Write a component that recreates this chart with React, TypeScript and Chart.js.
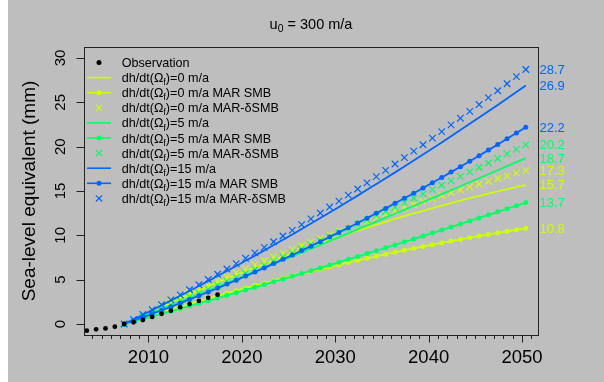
import React, { useEffect, useRef } from "react";
import { Chart, registerables } from "chart.js";
Chart.register(...registerables);

const obsYears = [2003.4, 2004.4, 2005.4, 2006.4, 2007.4, 2008.4, 2009.4, 2010.4, 2011.4, 2012.4, 2013.4, 2014.4, 2015.4, 2016.4, 2017.4];
const obsSLE = [-0.75, -0.6, -0.5, -0.3, 0.0, 0.2, 0.45, 0.8, 1.15, 1.5, 1.9, 2.25, 2.6, 2.95, 3.3];

const modelYears = [2007.4, 2008.4, 2009.4, 2010.4, 2011.4, 2012.4, 2013.4, 2014.4, 2015.4, 2016.4, 2017.4, 2018.4, 2019.4, 2020.4, 2021.4, 2022.4, 2023.4, 2024.4, 2025.4, 2026.4, 2027.4, 2028.4, 2029.4, 2030.4, 2031.4, 2032.4, 2033.4, 2034.4, 2035.4, 2036.4, 2037.4, 2038.4, 2039.4, 2040.4, 2041.4, 2042.4, 2043.4, 2044.4, 2045.4, 2046.4, 2047.4, 2048.4, 2049.4, 2050.4];

const dh0 = [0, 0.50, 0.99, 1.47, 1.95, 2.42, 2.89, 3.35, 3.80, 4.25, 4.69, 5.12, 5.55, 5.97, 6.38, 6.79, 7.19, 7.59, 7.98, 8.36, 8.74, 9.11, 9.48, 9.83, 10.19, 10.53, 10.87, 11.20, 11.53, 11.85, 12.17, 12.47, 12.77, 13.07, 13.36, 13.64, 13.92, 14.19, 14.45, 14.71, 14.96, 15.21, 15.44, 15.7];
const dh0MarSmb = [0, 0.34, 0.67, 0.99, 1.32, 1.64, 1.95, 2.26, 2.57, 2.87, 3.17, 3.47, 3.76, 4.04, 4.33, 4.61, 4.88, 5.15, 5.42, 5.68, 5.94, 6.20, 6.45, 6.69, 6.94, 7.18, 7.41, 7.64, 7.87, 8.09, 8.31, 8.53, 8.74, 8.94, 9.15, 9.35, 9.54, 9.73, 9.92, 10.10, 10.28, 10.46, 10.63, 10.8];
const dh0MarDelta = [0, 0.51, 1.02, 1.52, 2.02, 2.51, 2.99, 3.48, 3.95, 4.42, 4.89, 5.35, 5.80, 6.25, 6.69, 7.13, 7.57, 8.00, 8.42, 8.84, 9.25, 9.66, 10.06, 10.46, 10.85, 11.24, 11.62, 11.99, 12.36, 12.73, 13.09, 13.45, 13.80, 14.14, 14.48, 14.81, 15.14, 15.47, 15.79, 16.10, 16.41, 16.71, 17.01, 17.3];
const dh5 = [0, 0.42, 0.83, 1.25, 1.67, 2.09, 2.51, 2.93, 3.35, 3.77, 4.20, 4.62, 5.05, 5.48, 5.90, 6.33, 6.76, 7.19, 7.62, 8.05, 8.49, 8.92, 9.36, 9.79, 10.23, 10.67, 11.11, 11.55, 11.99, 12.43, 12.87, 13.31, 13.76, 14.20, 14.65, 15.09, 15.54, 15.99, 16.44, 16.89, 17.34, 17.80, 18.25, 18.7];
const dh5MarSmb = [0, 0.29, 0.57, 0.86, 1.15, 1.44, 1.74, 2.03, 2.33, 2.63, 2.93, 3.23, 3.53, 3.84, 4.14, 4.45, 4.76, 5.07, 5.38, 5.69, 6.01, 6.33, 6.65, 6.97, 7.29, 7.61, 7.94, 8.26, 8.59, 8.92, 9.25, 9.58, 9.92, 10.26, 10.59, 10.93, 11.27, 11.62, 11.96, 12.31, 12.65, 13.00, 13.35, 13.7];
const dh5MarDelta = [0, 0.43, 0.85, 1.28, 1.72, 2.15, 2.59, 3.03, 3.47, 3.91, 4.35, 4.80, 5.25, 5.70, 6.15, 6.61, 7.07, 7.53, 7.99, 8.45, 8.92, 9.38, 9.85, 10.33, 10.80, 11.28, 11.75, 12.23, 12.72, 13.20, 13.69, 14.18, 14.67, 15.16, 15.65, 16.15, 16.65, 17.15, 17.65, 18.16, 18.67, 19.18, 19.69, 20.2];
const dh15 = [0, 0.52, 1.04, 1.57, 2.10, 2.64, 3.18, 3.73, 4.28, 4.84, 5.41, 5.98, 6.55, 7.13, 7.71, 8.30, 8.90, 9.50, 10.10, 10.71, 11.33, 11.95, 12.57, 13.20, 13.84, 14.48, 15.13, 15.78, 16.44, 17.10, 17.76, 18.44, 19.11, 19.80, 20.48, 21.18, 21.87, 22.58, 23.28, 24.00, 24.71, 25.44, 26.17, 26.9];
const dh15MarSmb = [0, 0.38, 0.76, 1.15, 1.54, 1.94, 2.35, 2.77, 3.19, 3.62, 4.05, 4.50, 4.94, 5.40, 5.86, 6.33, 6.81, 7.29, 7.78, 8.28, 8.78, 9.29, 9.81, 10.33, 10.86, 11.39, 11.94, 12.49, 13.04, 13.61, 14.18, 14.75, 15.34, 15.93, 16.53, 17.13, 17.74, 18.36, 18.98, 19.61, 20.25, 20.89, 21.54, 22.2];
const dh15MarDelta = [0, 0.53, 1.07, 1.61, 2.17, 2.72, 3.29, 3.86, 4.43, 5.02, 5.61, 6.20, 6.81, 7.41, 8.03, 8.65, 9.28, 9.92, 10.56, 11.21, 11.86, 12.52, 13.19, 13.86, 14.54, 15.23, 15.92, 16.62, 17.33, 18.04, 18.76, 19.49, 20.22, 20.96, 21.70, 22.45, 23.21, 23.98, 24.75, 25.53, 26.31, 27.10, 27.90, 28.7];

const xTicks = [2010, 2020, 2030, 2040, 2050];
const xMinorTicks = [2004, 2005, 2006, 2007, 2008, 2009, 2011, 2012, 2013, 2014, 2015, 2016, 2017, 2018, 2019, 2021, 2022, 2023, 2024, 2025, 2026, 2027, 2028, 2029, 2031, 2032, 2033, 2034, 2035, 2036, 2037, 2038, 2039, 2041, 2042, 2043, 2044, 2045, 2046, 2047, 2048, 2049, 2051];
const yTicks = [0, 5, 10, 15, 20, 25, 30];

const YELLOW = "#CCFF00";
const GREEN = "#00FF66";
const BLUE = "#0066FF";
const FONT = '"Liberation Sans", Arial, Helvetica, sans-serif';

const titleMain = "u";
const titleSub = "0";
const titleRest = " = 300 m/a";
const yTitle = "Sea-level equivalent (mm)";
const obsLabel = "Observation";
const rates = ["0", "5", "15"];
const suffixes = ["", " MAR SMB", " MAR-\u03B4SMB"];

type Kind = "dot" | "line" | "linedot" | "cross";

const groups = [
  { rate: rates[0], color: YELLOW, line: dh0, dots: dh0MarSmb, cross: dh0MarDelta },
  { rate: rates[1], color: GREEN, line: dh5, dots: dh5MarSmb, cross: dh5MarDelta },
  { rate: rates[2], color: BLUE, line: dh15, dots: dh15MarSmb, cross: dh15MarDelta },
];

function pts(xs: number[], ys: number[]) {
  return xs.map((x, i) => ({ x, y: ys[i] }));
}

function drawRich(ctx: CanvasRenderingContext2D, parts: { t: string; sub?: boolean }[], x: number, y: number, size: number, align: "left" | "center") {
  const widths = parts.map((p) => {
    ctx.font = `${p.sub ? size * 0.72 : size}px ${FONT}`;
    return ctx.measureText(p.t).width;
  });
  const total = widths.reduce((a, b) => a + b, 0);
  let cx = align === "center" ? x - total / 2 : x;
  ctx.textAlign = "left";
  ctx.textBaseline = "alphabetic";
  parts.forEach((p, i) => {
    ctx.font = `${p.sub ? size * 0.72 : size}px ${FONT}`;
    ctx.fillText(p.t, cx, p.sub ? y + size * 0.25 : y);
    cx += widths[i];
  });
}

function drawSymbol(ctx: CanvasRenderingContext2D, kind: Kind, color: string, cx: number, cy: number) {
  ctx.save();
  ctx.strokeStyle = color;
  ctx.fillStyle = color;
  if (kind === "line" || kind === "linedot") {
    ctx.lineWidth = 1.6;
    ctx.beginPath();
    ctx.moveTo(cx - 12, cy);
    ctx.lineTo(cx + 12, cy);
    ctx.stroke();
  }
  if (kind === "dot" || kind === "linedot") {
    ctx.beginPath();
    ctx.arc(cx, cy, 2.5, 0, Math.PI * 2);
    ctx.fill();
  }
  if (kind === "cross") {
    ctx.lineWidth = 1.2;
    const r = 3.1;
    ctx.beginPath();
    ctx.moveTo(cx - r, cy - r);
    ctx.lineTo(cx + r, cy + r);
    ctx.moveTo(cx - r, cy + r);
    ctx.lineTo(cx + r, cy - r);
    ctx.stroke();
  }
  ctx.restore();
}

const decorPlugin = {
  id: "decor",
  beforeDraw(chart: any) {
    const ctx = chart.ctx as CanvasRenderingContext2D;
    ctx.save();
    ctx.fillStyle = "#BEBEBE";
    ctx.fillRect(0, 0, chart.width, chart.height);
    ctx.restore();
  },
  afterDraw(chart: any) {
    const ctx = chart.ctx as CanvasRenderingContext2D;
    const { left, right, top, bottom } = chart.chartArea;
    const xs = chart.scales.x;
    const ys = chart.scales.y;
    ctx.save();
    ctx.strokeStyle = "#222";
    ctx.fillStyle = "#000";
    ctx.lineWidth = 1;
    ctx.strokeRect(Math.round(left) + 0.5, Math.round(top) + 0.5, Math.round(right - left), Math.round(bottom - top));
    ctx.beginPath();
    xTicks.forEach((v) => {
      const px = Math.round(xs.getPixelForValue(v)) + 0.5;
      ctx.moveTo(px, bottom);
      ctx.lineTo(px, bottom + 7.5);
    });
    xMinorTicks.forEach((v) => {
      const px = Math.round(xs.getPixelForValue(v)) + 0.5;
      ctx.moveTo(px, bottom);
      ctx.lineTo(px, bottom + 4);
    });
    yTicks.forEach((v) => {
      const py = Math.round(ys.getPixelForValue(v)) + 0.5;
      ctx.moveTo(left, py);
      ctx.lineTo(left - 7.5, py);
    });
    ctx.stroke();
    ctx.font = `18.5px ${FONT}`;
    ctx.textAlign = "center";
    ctx.textBaseline = "alphabetic";
    xTicks.forEach((v) => {
      ctx.fillText(String(v), xs.getPixelForValue(v), bottom + 28);
    });
    ctx.font = `15px ${FONT}`;
    yTicks.forEach((v) => {
      ctx.save();
      ctx.translate(left - 19, ys.getPixelForValue(v));
      ctx.rotate(-Math.PI / 2);
      ctx.textAlign = "center";
      ctx.fillText(String(v), 0, 0);
      ctx.restore();
    });
    ctx.save();
    ctx.font = `19px ${FONT}`;
    ctx.translate(left - 49.5, (top + bottom) / 2);
    ctx.rotate(-Math.PI / 2);
    ctx.textAlign = "center";
    ctx.fillText(yTitle, 0, 0);
    ctx.restore();
    drawRich(ctx, [{ t: titleMain }, { t: titleSub, sub: true }, { t: titleRest }], (left + right) / 2, 28.5, 14.5, "center");
    ctx.font = `13px ${FONT}`;
    ctx.textAlign = "left";
    groups.forEach((g) => {
      [g.cross, g.line, g.dots].forEach((arr) => {
        const v = arr[arr.length - 1];
        ctx.fillStyle = g.color;
        ctx.fillText(v.toFixed(1), right + 1.5, ys.getPixelForValue(v) + 4.6);
      });
    });
    const symX = left + 15;
    const textX = left + 37.7;
    const row0 = top + 15.5;
    const step = 15.1;
    drawSymbol(ctx, "dot", "#000", symX, row0);
    ctx.fillStyle = "#000";
    ctx.font = `12.6px ${FONT}`;
    ctx.textAlign = "left";
    ctx.fillText(obsLabel, textX, row0 + 4.5);
    let row = 1;
    groups.forEach((g) => {
      const kinds: Kind[] = ["line", "linedot", "cross"];
      kinds.forEach((k, i) => {
        const cy = row0 + row * step;
        drawSymbol(ctx, k, g.color, symX, cy);
        ctx.fillStyle = "#000";
        drawRich(ctx, [{ t: "dh/dt(\u03A9" }, { t: "f", sub: true }, { t: `)=${g.rate} m/a${suffixes[i]}` }], textX, cy + 4.5, 12.6, "left");
        row++;
      });
    });
    ctx.restore();
  },
};

export default function App() {
  const ref = useRef<HTMLCanvasElement | null>(null);
  useEffect(() => {
    if (!ref.current) return;
    const datasets: any[] = [];
    datasets.push({
      label: obsLabel,
      data: pts(obsYears, obsSLE),
      showLine: false,
      pointRadius: 2.4,
      pointBackgroundColor: "#000",
      pointBorderWidth: 0,
    });
    [...groups].reverse().forEach((g) => {
      datasets.push({
        label: `${g.rate} cross`,
        data: pts(modelYears, g.cross),
        showLine: false,
        pointStyle: "crossRot",
        pointRadius: 4.6,
        pointBorderColor: g.color,
        pointBorderWidth: 1.2,
      });
      datasets.push({
        label: `${g.rate} dots`,
        data: pts(modelYears, g.dots),
        showLine: true,
        borderColor: g.color,
        borderWidth: 1.8,
        pointRadius: 2.5,
        pointBackgroundColor: g.color,
        pointBorderWidth: 0,
      });
      datasets.push({
        label: `${g.rate} line`,
        data: pts(modelYears, g.line),
        showLine: true,
        borderColor: g.color,
        borderWidth: 1.8,
        pointRadius: 0,
      });
    });
    const chart = new Chart(ref.current, {
      type: "scatter",
      data: { datasets },
      options: {
        animation: false,
        responsive: false,
        devicePixelRatio: 1,
        layout: { padding: { left: 76, top: 47, right: 66, bottom: 47 } },
        scales: {
          x: { type: "linear", min: 2003.1, max: 2051.71, display: false },
          y: { type: "linear", min: -1.24, max: 31.24, display: false },
        },
        elements: { line: { tension: 0 } },
        plugins: { legend: { display: false }, tooltip: { enabled: false }, title: { display: false } },
      },
      plugins: [decorPlugin],
    } as any);
    return () => chart.destroy();
  }, []);
  return (
    <div style={{ position: "fixed", left: 8, top: 0, width: 596, height: 382 }}>
      <canvas ref={ref} width={596} height={382} style={{ display: "block", width: 596, height: 382 }} />
    </div>
  );
}
